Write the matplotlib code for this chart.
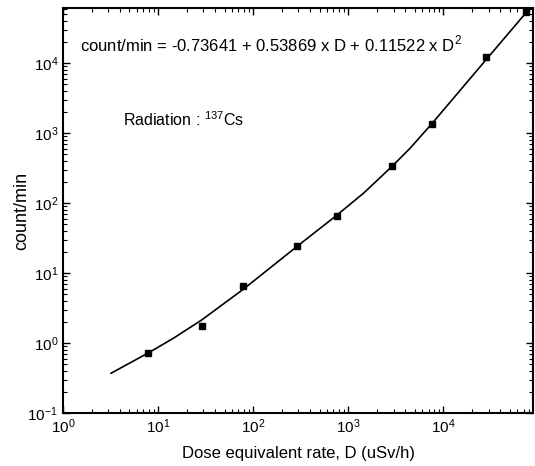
import numpy as np
import matplotlib.pyplot as plt
from matplotlib.ticker import LogLocator, NullFormatter

plt.rcParams['font.family'] = ['Liberation Sans', 'DejaVu Sans']
plt.rcParams['mathtext.fontset'] = 'custom'
plt.rcParams['mathtext.rm'] = 'Liberation Sans'

dose = [7.8, 29, 78, 290, 770, 2900, 7700, 28000, 75000]
counts = [0.72, 1.77, 6.6, 24, 65, 335, 1350, 12000, 53000]

# courbe d'ajustement
fit_dose = [3.2, 8, 14.5, 29, 78, 290, 770, 1450, 2900, 4500, 7600, 28000, 81000]
fit_counts = [0.37, 0.73, 1.17, 2.15, 5.8, 24, 68, 138, 335, 610, 1360, 11000, 60000]

fig = plt.figure(figsize=(5.35, 4.66), dpi=100)
ax = fig.add_axes([0.1178, 0.1137, 0.8785, 0.8691])

ax.plot(fit_dose, fit_counts, color='black', lw=1.2)
ax.plot(dose, counts, 's', color='black', ms=4)

ax.set_xscale('log')
ax.set_yscale('log')
ax.set_xlim(1, 8.8e4)
ax.set_ylim(0.1, 6.1e4)

ax.xaxis.set_minor_locator(LogLocator(base=10, subs=np.arange(2, 10)))
ax.yaxis.set_minor_locator(LogLocator(base=10, subs=np.arange(2, 10)))
ax.xaxis.set_minor_formatter(NullFormatter())
ax.yaxis.set_minor_formatter(NullFormatter())
ax.tick_params(which='both', direction='in', top=True, right=True, labelsize=11)
ax.tick_params(which='major', length=5, width=1)
ax.tick_params(which='minor', length=3, width=0.8)
for s in ax.spines.values():
    s.set_linewidth(1.5)

ax.set_xlabel('Dose equivalent rate, D (uSv/h)', fontsize=12, labelpad=7)
ax.set_ylabel('count/min', fontsize=13)
ax.yaxis.set_label_coords(-0.07, 0.5)

ax.text(0.037, 0.91, r'count/min = -0.73641 + 0.53869 x D + 0.11522 x D$^2$',
        transform=ax.transAxes, fontsize=12, va='center')
ax.text(0.128, 0.725, r'Radiation : $^{137}$Cs', transform=ax.transAxes,
        fontsize=11.5, va='center')

fig.savefig('out.png', dpi=100)
